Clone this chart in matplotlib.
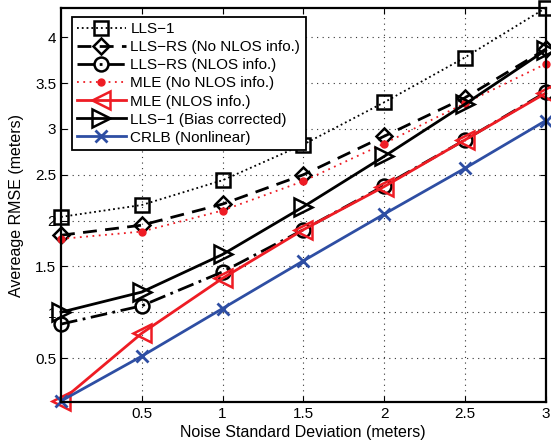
import matplotlib
matplotlib.use("Agg")
import matplotlib.pyplot as plt

plt.rcParams['font.family'] = ['Liberation Sans', 'DejaVu Sans']

x = [0, 0.5, 1, 1.5, 2, 2.5, 3]
lls1 = [2.04, 2.17, 2.44, 2.83, 3.29, 3.78, 4.32]
llsrs_no = [1.84, 1.95, 2.18, 2.50, 2.92, 3.34, 3.87]
llsrs_nlos = [0.87, 1.07, 1.44, 1.90, 2.38, 2.88, 3.40]
mle_no = [1.80, 1.88, 2.11, 2.43, 2.84, 3.28, 3.71]
mle_nlos = [0.03, 0.77, 1.37, 1.90, 2.37, 2.88, 3.39]
lls1_bc = [1.00, 1.22, 1.63, 2.15, 2.70, 3.27, 3.86]
crlb = [0.03, 0.52, 1.04, 1.56, 2.07, 2.57, 3.09]

labels = ['LLS\u22121', 'LLS\u2212RS (No NLOS info.)', 'LLS\u2212RS (NLOS info.)',
          'MLE (No NLOS info.)', 'MLE (NLOS info.)', 'LLS\u22121 (Bias corrected)',
          'CRLB (Nonlinear)']
xticks = [0.5, 1, 1.5, 2, 2.5, 3]
yticks = [0.5, 1, 1.5, 2, 2.5, 3, 3.5, 4]

red = '#ee1c24'
blue = '#2e4ea3'

fig = plt.figure(figsize=(5.51, 4.46), dpi=100)
ax = fig.add_axes([0.1107, 0.0987, 0.8795, 0.8833])

ax.plot(x, lls1, color='black', linestyle=':', linewidth=1.3, marker='s', markersize=10,
        markerfacecolor='none', markeredgewidth=1.8, label=labels[0], clip_on=False)
ax.plot(x, llsrs_no, color='black', linestyle=(0, (5, 3)), linewidth=2, marker='D', markersize=8,
        markerfacecolor='none', markeredgewidth=1.8, label=labels[1], clip_on=False)
ax.plot(x, llsrs_nlos, color='black', linestyle=(0, (6, 2, 1, 2)), linewidth=2, marker='o', markersize=10,
        markerfacecolor='none', markeredgewidth=1.8, label=labels[2], clip_on=False)
ax.plot(x, mle_no, color=red, linestyle=(0, (1, 2.5)), linewidth=1.3, marker='o', markersize=5,
        markerfacecolor=red, markeredgecolor=red, label=labels[3], clip_on=False)
ax.plot(x, mle_nlos, color=red, linestyle='-', linewidth=2, marker='<', markersize=13,
        markerfacecolor='none', markeredgewidth=1.8, label=labels[4], clip_on=False)
ax.plot(x, lls1_bc, color='black', linestyle='-', linewidth=2, marker='>', markersize=13,
        markerfacecolor='none', markeredgewidth=1.8, label=labels[5], clip_on=False)
ax.plot(x, crlb, color=blue, linestyle='-', linewidth=2, marker='x', markersize=9,
        markeredgewidth=2, label=labels[6], clip_on=False)

ax.set_xlim(0, 3)
ax.set_ylim(0.02, 4.32)
ax.set_xticks(xticks)
ax.set_yticks(yticks)
ax.set_xticklabels(['0.5', '1', '1.5', '2', '2.5', '3'])
ax.set_yticklabels(['0.5', '1', '1.5', '2', '2.5', '3', '3.5', '4'])
ax.tick_params(direction='in', length=4, labelsize=11, top=True, right=True, width=0.8)
ax.grid(True, linestyle=(0, (1, 4)), color='#333333', linewidth=0.8)
for s in ax.spines.values():
    s.set_linewidth(1.6)

ax.set_xlabel('Noise Standard Deviation (meters)', fontsize=11.5, labelpad=3)
ax.set_ylabel('Avereage RMSE (meters)', fontsize=11.5, labelpad=8)

leg = ax.legend(loc='upper left', bbox_to_anchor=(0.022, 0.978), fontsize=11, frameon=True,
                fancybox=False, edgecolor='black', framealpha=1, handlelength=3.2,
                borderpad=0.35, labelspacing=0.27, handletextpad=0.3, borderaxespad=0)
leg.get_frame().set_linewidth(1.3)

fig.savefig('out.png', dpi=100)
